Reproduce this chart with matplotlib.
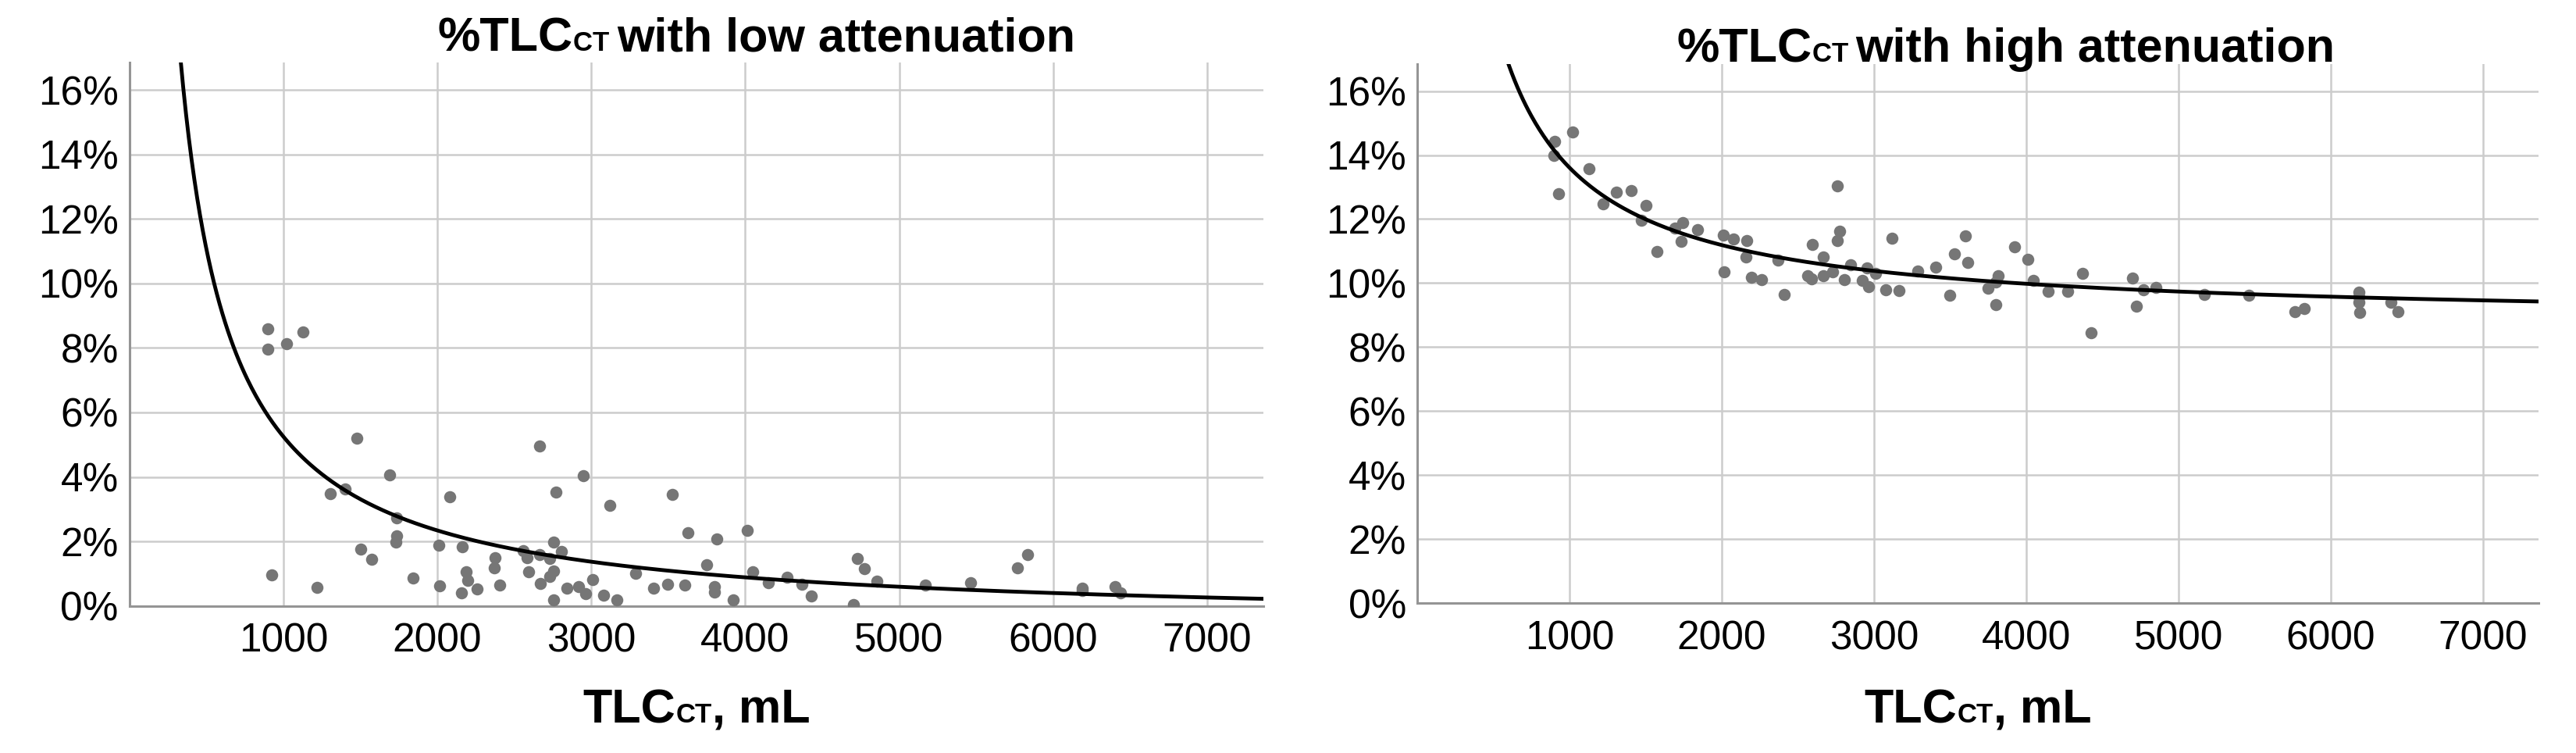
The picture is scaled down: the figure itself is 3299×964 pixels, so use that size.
import matplotlib
matplotlib.use('Agg')
import matplotlib.pyplot as plt
import numpy as np
from matplotlib.offsetbox import TextArea, HPacker, AnnotationBbox
from matplotlib.ticker import FuncFormatter

plt.rcParams['font.family'] = ['Liberation Sans', 'DejaVu Sans']

# low attenuation: TLC (mL) vs % of TLC
tlc_low = [897, 901, 1019, 1125, 927, 1219, 1305, 1402, 1475, 1501,
           1574, 1688, 1738, 1735, 1729, 1841, 2009, 2013, 2079, 2163,
           2187, 2196, 2157, 2258, 2374, 2368, 2407, 2557, 2585, 2593,
           2665, 2664, 2669, 2729, 2757, 2807, 2757, 2729, 2757, 2770,
           2841, 2920, 2963, 2950, 3009, 3079, 3121, 3164, 3286, 3406,
           3495, 3525, 3625, 3608, 3817, 3750, 3802, 3802, 3922, 4012,
           4050, 4148, 4272, 4369, 4429, 4703, 4726, 4773, 4854, 5171,
           5462, 5767, 5831, 6190, 6190, 6400, 6439]
pct_low = [8.59, 7.97, 8.13, 8.49, 0.95, 0.58, 3.49, 3.63, 5.20, 1.77,
           1.44, 4.06, 2.74, 2.18, 1.98, 0.87, 1.87, 0.62, 3.39, 1.83,
           1.05, 0.79, 0.40, 0.52, 1.49, 1.19, 0.64, 1.72, 1.49, 1.07,
           4.96, 1.59, 0.69, 1.47, 1.99, 1.69, 1.09, 0.91, 0.18, 3.53,
           0.54, 0.59, 0.38, 4.03, 0.81, 0.34, 3.12, 0.18, 1.01, 0.56,
           0.67, 3.45, 2.26, 0.65, 2.07, 1.27, 0.59, 0.44, 0.18, 2.35,
           1.05, 0.73, 0.89, 0.67, 0.30, 0.04, 1.47, 1.15, 0.77, 0.65,
           0.73, 1.19, 1.60, 0.56, 0.48, 0.59, 0.40]

# high attenuation
tlc_high = [901, 896, 1019, 929, 1127, 1221, 1307, 1406, 1504, 1473,
            1575, 1692, 1742, 1735, 1841, 2012, 2014, 2079, 2167, 2161,
            2194, 2260, 2371, 2412, 2563, 2591, 2594, 2669, 2669, 2730,
            2762, 2775, 2758, 2808, 2846, 2924, 2963, 2953, 3013, 3078,
            3121, 3166, 3288, 3406, 3497, 3527, 3600, 3618, 3816, 3803,
            3748, 3803, 3923, 4010, 4048, 4145, 4271, 4372, 4428, 4701,
            4726, 4771, 4852, 5171, 5462, 5766, 5830, 6188, 6188, 6188,
            6194, 6395, 6445]
pct_high = [14.43, 14.00, 14.73, 12.80, 13.58, 12.47, 12.84, 12.88, 12.42, 11.96,
            10.98, 11.71, 11.88, 11.31, 11.66, 11.49, 10.35, 11.37, 11.33, 10.82,
            10.19, 10.11, 10.72, 9.65, 10.23, 10.14, 11.20, 10.82, 10.22, 10.35,
            13.04, 11.63, 11.33, 10.12, 10.57, 10.08, 9.88, 10.47, 10.30, 9.80,
            11.39, 9.76, 10.37, 10.51, 9.63, 10.91, 11.47, 10.64, 10.23, 10.04,
            9.85, 9.33, 11.13, 10.75, 10.08, 9.74, 9.74, 10.30, 8.45, 10.15,
            9.27, 9.78, 9.86, 9.65, 9.63, 9.12, 9.20, 9.71, 9.57, 9.39,
            9.09, 9.39, 9.12]

# inverse model y = b0 + b1 / x
fit_low = (-0.57, 5820.0)
fit_high = (8.77, 4838.0)

x_ticks = [1000, 2000, 3000, 4000, 5000, 6000, 7000]
y_ticks = [0, 2, 4, 6, 8, 10, 12, 14, 16]

W, H = 3299, 964
fig = plt.figure(figsize=(W / 100, H / 100), dpi=100)

ax1 = fig.add_axes([165.7 / W, 1 - 775.7 / H, (1618 - 165.7) / W, (775.7 - 80) / H])
ax2 = fig.add_axes([1815 / W, 1 - 772.3 / H, (3250.7 - 1815) / W, (772.3 - 81.7) / H])


def draw_panel(ax, xs, ys, fit):
    ax.scatter(xs, ys, s=125, color='#767676', linewidths=0, zorder=3)
    xx = np.linspace(150, 7400, 800)
    ax.plot(xx, fit[0] + fit[1] / xx, color='black', lw=3.5, zorder=4)
    ax.set_xlim(0, 7365)
    ax.set_ylim(0, 16.85)
    ax.set_xticks(x_ticks)
    ax.set_yticks(y_ticks)
    ax.yaxis.set_major_formatter(FuncFormatter(lambda v, p: '%d%%' % v))
    ax.grid(True, color='#cccccc', lw=1.8, zorder=0)
    ax.set_axisbelow(True)
    for s in ['top', 'right']:
        ax.spines[s].set_visible(False)
    for s in ['left', 'bottom']:
        ax.spines[s].set_color('#959595')
        ax.spines[s].set_linewidth(2.2)
    ax.tick_params(axis='both', length=0, labelsize=37, colors='black')
    ax.tick_params(axis='x', pad=15)
    ax.tick_params(axis='y', pad=10)


draw_panel(ax1, tlc_low, pct_low, fit_low)
draw_panel(ax2, tlc_high, pct_high, fit_high)


# title / label with small "CT"
def mixed_label(parts, x, y):
    boxes = [TextArea(t, textprops=dict(fontsize=sz, fontweight='bold', color='black'))
             for t, sz in parts]
    pack = HPacker(children=boxes, align='baseline', pad=0, sep=0)
    ab = AnnotationBbox(pack, (x, y), xycoords='figure pixels', box_alignment=(0.5, 0),
                        frameon=False, pad=0)
    fig.add_artist(ab)


big, small = 44, 25
mixed_label([('%TLC', big), ('CT ', small), ('with low attenuation', big)], 969, 886)
mixed_label([('%TLC', big), ('CT ', small), ('with high attenuation', big)], 2569, 872)
mixed_label([('TLC', big), ('CT', small), (', mL', big)], 892, 26)
mixed_label([('TLC', big), ('CT', small), (', mL', big)], 2533, 26)

plt.savefig('out.png', dpi=100)
plt.close()
